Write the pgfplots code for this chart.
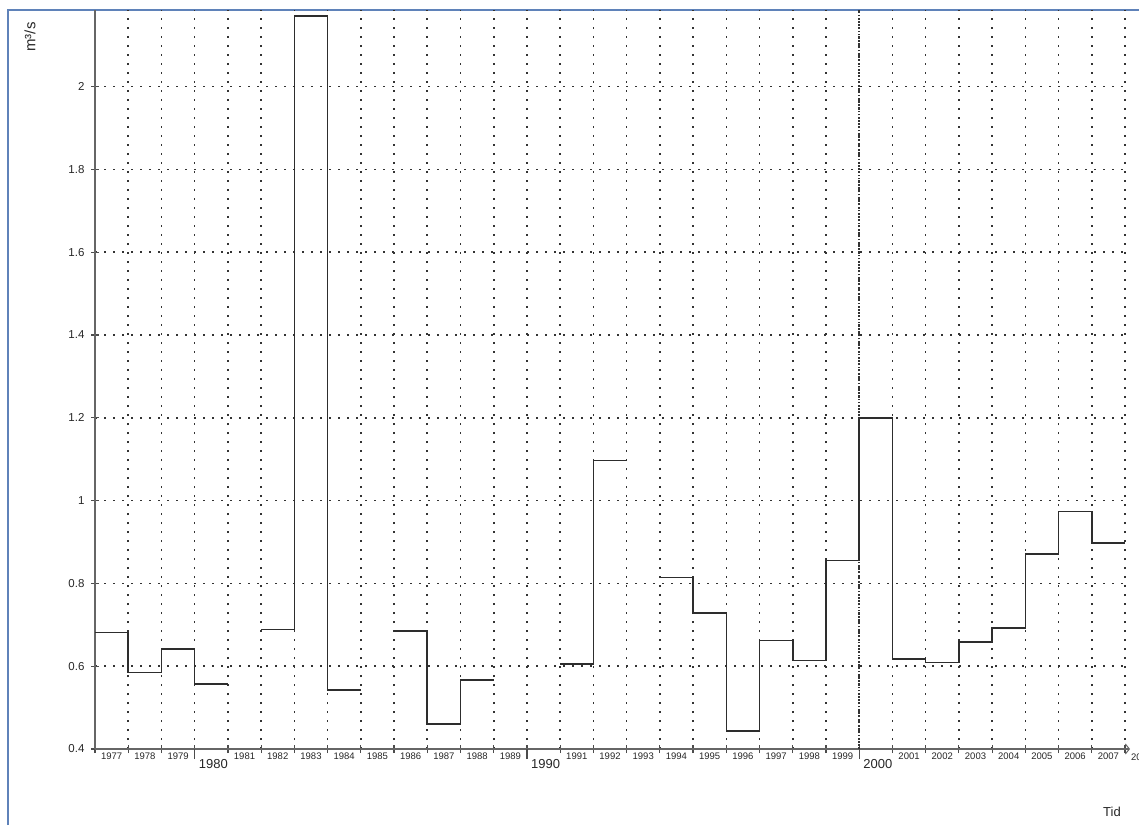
\documentclass[border=0pt]{standalone}
\usepackage{pgfplots}
\pgfplotsset{compat=1.18}
\usepackage{fontspec}
\setmainfont{Liberation Sans}
\usetikzlibrary{arrows.meta}
\definecolor{frameblue}{RGB}{95,130,185}
\definecolor{linegray}{RGB}{45,45,45}
\begin{document}
\begin{tikzpicture}[x=1pt,y=1pt]
\path[use as bounding box] (0,0) rectangle (1139,825);
\draw[frameblue, line width=2pt] (8,0) -- (8,815) -- (1139,815);
\begin{axis}[
  at={(95pt,76pt)}, anchor=south west,
  scale only axis, width=1035pt, height=739pt,
  xmin=1977, xmax=2008.15, ymin=0.4, ymax=2.185,
  clip=false,
  axis x line=bottom, axis y line=left,
  axis line style={black!60, line width=1.5pt},
  y axis line style={-},
  x axis line style={-{Straight Barb[length=4pt,width=10pt,line width=1pt]}},
  xtick={1977,1978,1979,1980,1981,1982,1983,1984,1985,1986,1987,1988,1989,1990,1991,1992,1993,1994,1995,1996,1997,1998,1999,2000,2001,2002,2003,2004,2005,2006,2007,2008},
  x tick label as interval,
  xticklabels={1977,1978,1979,,1981,1982,1983,1984,1985,1986,1987,1988,1989,,1991,1992,1993,1994,1995,1996,1997,1998,1999,,2001,2002,2003,2004,2005,2006,2007,2008},
  ytick={0.4,0.6,0.8,1,1.2,1.4,1.6,1.8,2},
  tick align=center, major tick length=8pt,
  y tick style={black!70, line width=1.2pt},
  x tick style={black!70, line width=1.2pt},
  extra x ticks={1980,1990,2000},
  extra x tick labels={},
  extra x tick style={grid=none, tick align=outside, major tick length=10pt},
  xticklabel style={font=\fontsize{9.5}{10}\selectfont, inner sep=1pt, yshift=1pt, text=black!85},
  yticklabel style={font=\fontsize{11.5}{12}\selectfont, xshift=-3pt, text=black!85},
  /pgf/number format/assume math mode=true,
  grid=major,
  major grid style={black!80, line width=1.6pt, dash pattern=on 1.6pt off 7.4pt},
  ylabel={m³/s},
  ylabel style={at={(axis description cs:-0.0628,0.9635)}, anchor=center, font=\fontsize{15}{16}\selectfont, text=black!85},
  xlabel={Tid},
  xlabel style={at={(axis description cs:0.9826,-0.0853)}, anchor=center, font=\fontsize{13}{14}\selectfont, text=black!85},
]
\draw[black!80, line width=1.6pt, dash pattern=on 1.6pt off 1.6pt] (axis cs:2000,0.4) -- (axis cs:2000,2.185);
\addplot[const plot, linegray, line width=1.6pt] coordinates {(1977,0.681) (1978,0.585) (1979,0.642) (1980,0.557) (1981,0.557)};
\addplot[const plot, linegray, line width=1.6pt] coordinates {(1982,0.689) (1983,2.170) (1984,0.542) (1985,0.542)};
\addplot[const plot, linegray, line width=1.6pt] coordinates {(1986,0.685) (1987,0.461) (1988,0.566) (1989,0.566)};
\addplot[const plot, linegray, line width=1.6pt] coordinates {(1991,0.606) (1992,1.097) (1993,1.097)};
\addplot[const plot, linegray, line width=1.6pt] coordinates {(1994,0.814) (1995,0.728) (1996,0.444) (1997,0.662) (1998,0.614) (1999,0.855) (2000,1.200) (2001,0.618) (2002,0.609) (2003,0.659) (2004,0.693) (2005,0.871) (2006,0.974) (2007,0.898) (2008,0.898)};
\node[anchor=north west, inner sep=0pt, font=\fontsize{13}{14}\selectfont, text=black!85] at (axis cs:1980,0.4) [xshift=4pt, yshift=-10pt] {1980};
\node[anchor=north west, inner sep=0pt, font=\fontsize{13}{14}\selectfont, text=black!85] at (axis cs:1990,0.4) [xshift=4pt, yshift=-10pt] {1990};
\node[anchor=north west, inner sep=0pt, font=\fontsize{13}{14}\selectfont, text=black!85] at (axis cs:2000,0.4) [xshift=4pt, yshift=-10pt] {2000};
\node[anchor=north, inner sep=1pt, font=\fontsize{9.5}{10}\selectfont, text=black!85] at (axis cs:2008.5,0.4) [yshift=-4pt] {2008};
\end{axis}
\end{tikzpicture}
\end{document}
